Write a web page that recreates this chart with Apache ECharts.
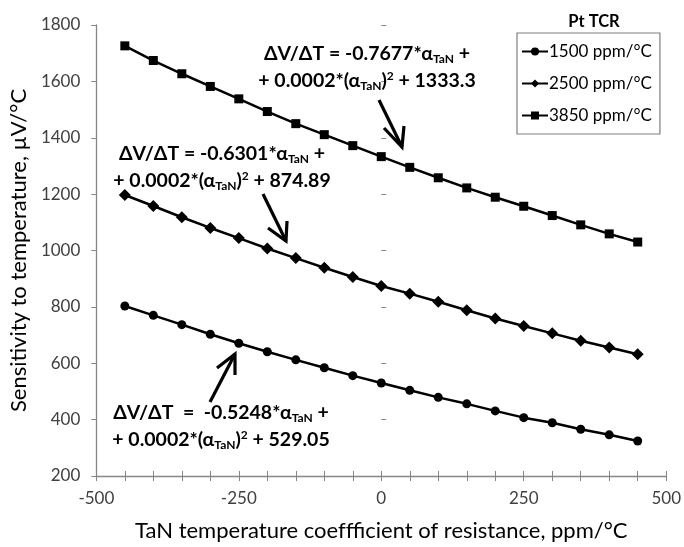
<!DOCTYPE html>
<html><head><meta charset="utf-8">
<script src="https://cdn.jsdelivr.net/npm/echarts@6/dist/echarts.min.js"></script>
<style>html,body{margin:0;padding:0;background:#fff}#c{width:684px;height:547px}</style>
</head><body><div id="c"></div>
<script>
const xValues = [-450,-400,-350,-300,-250,-200,-150,-100,-50,0,50,100,150,200,250,300,350,400,450];
const s1500 = [803,770,737,703,671,641,612,584,556,530,504,479,456,431,407,389,366,346,324];
const s2500 = [1197,1158,1118,1080,1044,1007,973,939,906,874,847,818,788,759,732,706,680,656,632];
const s3850 = [1726,1674,1627,1582,1538,1493,1450,1411,1372,1333,1295,1258,1222,1189,1157,1124,1091,1059,1030];
const seriesNames = ['1500 ppm/°C','2500 ppm/°C','3850 ppm/°C'];
const xTickLabels = [-500,-250,0,250,500];

const FONT = 'Lato, "Open Sans", sans-serif';
const chart = echarts.init(document.getElementById('c'));
const pair = arr => arr.map((v,i)=>[xValues[i], v]);
const mk = (name, data, symbol, size) => ({
  name, type:'line', data: pair(data), symbol, symbolSize:size,
  lineStyle:{color:'#000', width:2.5}, itemStyle:{color:'#000'},
  xAxisIndex:0, yAxisIndex:0, z:3
});
const EQF = 19.5;
const rich = {
  b:{fontFamily:FONT,fontWeight:'bold',fontSize:EQF,color:'#000'},
  sub:{fontFamily:FONT,fontWeight:'bold',fontSize:12,color:'#000',padding:[11,0,0,0]},
  sup:{fontFamily:FONT,fontWeight:'bold',fontSize:12,color:'#000',padding:[0,0,9,0]}
};
function eq(x, y, line1, line2){
  return [
    {type:'text', x, y, style:{text:line1, rich, fontFamily:FONT, fontWeight:'bold', fontSize:EQF, fill:'#000', align:'center', verticalAlign:'middle'}, z:10},
    {type:'text', x, y:y+27, style:{text:line2, rich, fontFamily:FONT, fontWeight:'bold', fontSize:EQF, fill:'#000', align:'center', verticalAlign:'middle'}, z:10}
  ];
}
function arrow(p0, tip, w1, w2){
  const st = {stroke:'#000', lineWidth:3.2, lineCap:'butt', lineJoin:'miter'};
  return [
    {type:'line', shape:{x1:p0[0],y1:p0[1],x2:tip[0],y2:tip[1]}, style:st, z:10},
    {type:'polyline', shape:{points:[w1, tip, w2]}, style:st, z:10}
  ];
}
const option = {
  animation:false,
  backgroundColor:'#fff',
  title:{text:'Pt TCR', left:589, top:8, textAlign:'center',
    textStyle:{fontFamily:FONT, fontWeight:'bold', fontSize:16.5, color:'#000'}},
  legend:{
    orient:'vertical', left:517, top:33, width:138,
    data:seriesNames, itemWidth:26, itemHeight:10, itemGap:15,
    padding:[10,8,10,4], borderColor:'#7f7f7f', borderWidth:1.2,
    backgroundColor:'#fff',
    textStyle:{fontFamily:FONT, fontSize:17, color:'#000', padding:[0,0,0,-4]}
  },
  grid:{left:96, right:13, top:25, bottom:71},
  xAxis:[{
    type:'value', min:-500, max:500, interval:50,
    name:'TaN temperature coeffficient of resistance, ppm/°C',
    nameLocation:'middle', nameGap:44,
    nameTextStyle:{fontFamily:FONT, fontSize:22, color:'#000'},
    axisLine:{show:true, onZero:false, lineStyle:{color:'#868686', width:1.3}},
    axisTick:{show:true, length:5, lineStyle:{color:'#868686'}},
    axisLabel:{fontFamily:FONT, fontSize:17, color:'#404040', margin:14,
      formatter:v=> xTickLabels.indexOf(v)>=0 ? String(v) : ''},
    splitLine:{show:false}
  },{
    type:'value', min:-500, max:500, interval:50, position:'bottom',
    axisLine:{show:false}, axisTick:{show:true, inside:true, length:5, lineStyle:{color:'#868686'}},
    axisLabel:{show:false}, splitLine:{show:false}
  }],
  yAxis:[{
    type:'value', min:200, max:1800, interval:200,
    name:'Sensitivity to temperature, µV/°C',
    nameLocation:'middle', nameGap:63, nameRotate:90,
    nameTextStyle:{fontFamily:FONT, fontSize:22, color:'#000'},
    axisLine:{show:true, onZero:false, lineStyle:{color:'#868686', width:1.3}},
    axisTick:{show:true, length:5, lineStyle:{color:'#868686'}},
    axisLabel:{fontFamily:FONT, fontSize:17, color:'#404040', margin:16, formatter:v=>String(v)},
    splitLine:{show:false}
  },{
    type:'value', min:200, max:1800, interval:200, position:'left',
    axisLine:{show:false}, axisTick:{show:true, inside:true, length:5, lineStyle:{color:'#868686'}},
    axisLabel:{show:false}, splitLine:{show:false}
  }],
  series:[
    mk(seriesNames[0], s1500, 'circle', 9),
    mk(seriesNames[1], s2500, 'diamond', 12),
    mk(seriesNames[2], s3850, 'rect', 9)
  ],
  graphic: [].concat(
    eq(367, 54, '{b|ΔV/ΔT = -0.7677*α}{sub|TaN}{b| +}', '{b|+ 0.0002*(α}{sub|TaN}{b|)}{sup|2}{b| + 1333.3}'),
    eq(222, 154, '{b|ΔV/ΔT = -0.6301*α}{sub|TaN}{b| +}', '{b|+ 0.0002*(α}{sub|TaN}{b|)}{sup|2}{b| + 874.89}'),
    eq(221, 413, '{b|ΔV/ΔT  =  -0.5248*α}{sub|TaN}{b| +}', '{b|+ 0.0002*(α}{sub|TaN}{b|)}{sup|2}{b| + 529.05}'),
    arrow([379,100],[402,147],[384,128],[404,126]),
    arrow([263,194],[286,241],[268,228],[287,221]),
    arrow([210,402],[235,354],[217,368],[235,375])
  )
};
chart.setOption(option);
</script></body></html>
